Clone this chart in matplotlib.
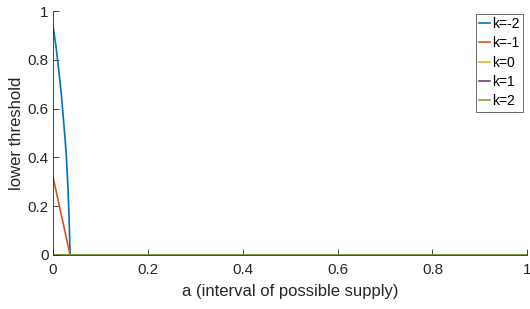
import matplotlib.pyplot as plt
import numpy as np

plt.rcParams['font.family'] = ['Liberation Sans', 'DejaVu Sans']

# supply interval a
a = [0.0, 0.006, 0.012, 0.018, 0.024, 0.028, 0.031, 0.034, 0.036, 0.5, 1.0]
# lower threshold for each k
k_m2 = [0.94, 0.86, 0.76, 0.65, 0.51, 0.41, 0.30, 0.15, 0.0, 0.0, 0.0]
k_m1 = [0.32, 0.267, 0.213, 0.16, 0.107, 0.071, 0.044, 0.018, 0.0, 0.0, 0.0]
k_0 = [0.0] * 11
k_1 = [0.0] * 11
k_2 = [0.0] * 11

labels = ['k=-2', 'k=-1', 'k=0', 'k=1', 'k=2']
colors = ['#0072bd', '#d95319', '#edb120', '#7e2f8e', '#77ac30']

fig = plt.figure(figsize=(5.3, 3.09), dpi=100)
ax = fig.add_axes([0.1, 0.175, 0.895, 0.789])

for y, lab, c in zip([k_m2, k_m1, k_0, k_1, k_2], labels, colors):
    ax.plot(a, y, color=c, lw=1.2, label=lab)

ax.set_xlim(0, 1)
ax.set_ylim(0, 1)
ax.set_xticks(np.arange(0, 1.01, 0.2))
ax.set_xticklabels(['0', '0.2', '0.4', '0.6', '0.8', '1'])
ax.set_yticks(np.arange(0, 1.01, 0.2))
ax.set_yticklabels(['0', '0.2', '0.4', '0.6', '0.8', '1'])
for s in ['top', 'right']:
    ax.spines[s].set_visible(False)
for s in ['left', 'bottom']:
    ax.spines[s].set_color('#262626')
    ax.spines[s].set_linewidth(0.6)
ax.tick_params(direction='in', length=4, width=0.6, colors='#262626',
               labelsize=11)
ax.tick_params(axis='x', pad=6)
ax.tick_params(axis='y', pad=3)
ax.set_xlabel('a (interval of possible supply)', fontsize=12, color='#262626', labelpad=5)
ax.set_ylabel('lower threshold', fontsize=12, color='#262626', labelpad=3)

leg = ax.legend(loc='upper right', bbox_to_anchor=(0.99, 0.99), fontsize=10,
                handlelength=0.8, handletextpad=0.1, borderpad=0.25,
                labelspacing=0.38, borderaxespad=0, fancybox=False)
leg.get_frame().set_edgecolor('#262626')
leg.get_frame().set_linewidth(0.6)

fig.savefig('out.png', dpi=100)
